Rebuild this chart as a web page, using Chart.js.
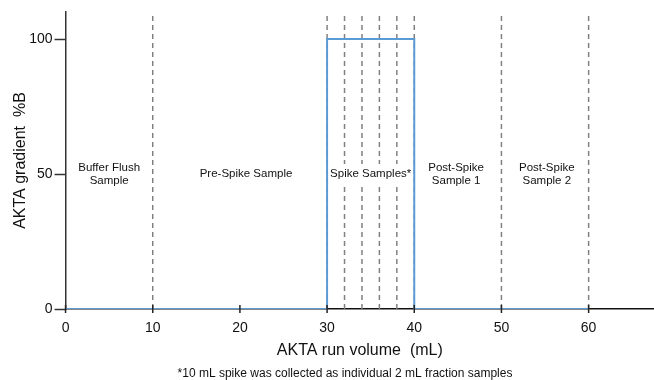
<!DOCTYPE html>
<html>
<head>
<meta charset="utf-8">
<script src="https://cdn.jsdelivr.net/npm/chart.js@4"></script>
<style>
  html, body { margin: 0; padding: 0; background: #fff; }
  #wrap { width: 654px; height: 380px; }
</style>
</head>
<body>
<div id="wrap"><canvas id="chart"></canvas></div>
<script>
// gradient program (run volume in mL vs %B)
const volume = [0, 30, 30, 40, 40, 60];
const gradient = [0, 0, 100, 100, 0, 0];

// fraction cut points (mL)
const fractionMarks = [10, 30, 32, 34, 36, 38, 40, 50, 60];

// sample region labels
const regionNames = [["Buffer Flush", "Sample"], ["Pre-Spike Sample"], ["Spike Samples*"], ["Post-Spike", "Sample 1"], ["Post-Spike", "Sample 2"]];
const regionCenters = [5, 20.7, 35, 44.8, 55.2];
const regionLevel = 50;

const xTicks = [0, 10, 20, 30, 40, 50, 60];
const yTicks = [0, 50, 100];
const xMax = 67.5;
const yMax = 110;

const footnote = "*10 mL spike was collected as individual 2 mL fraction samples";

const FONT = "Arial, 'Liberation Sans', sans-serif";

const markSets = fractionMarks.map((x) => ({
  data: [{ x: x, y: 0 }, { x: x, y: yMax }],
  borderColor: "#808080",
  borderWidth: 1.5,
  borderDash: [5, 4],
  pointRadius: 0,
  order: 2
}));

const regionLabels = {
  id: "regionLabels",
  afterDatasetsDraw(chart) {
    const { ctx, scales } = chart;
    const y0 = scales.y.getPixelForValue(regionLevel);
    const lh = 13;
    ctx.save();
    ctx.font = "11.5px " + FONT;
    ctx.textAlign = "center";
    ctx.textBaseline = "middle";
    // white boxes first, then text, so lines don't clip each other
    [true, false].forEach((boxPass) => {
      regionNames.forEach((lines, i) => {
        const cx = scales.x.getPixelForValue(regionCenters[i]);
        const top = y0 - (lines.length - 1) * lh / 2;
        lines.forEach((t, j) => {
          if (boxPass) {
            const w = ctx.measureText(t).width;
            ctx.fillStyle = "#fff";
            ctx.fillRect(cx - w / 2 - 1, top + j * lh - 10, w + 2, 20);
          } else {
            ctx.fillStyle = "#111";
            ctx.fillText(t, cx, top + j * lh);
          }
        });
      });
    });
    // tick marks crossing the x axis
    ctx.strokeStyle = "#222";
    ctx.lineWidth = 1.5;
    const yb = scales.y.getPixelForValue(0);
    xTicks.forEach((v) => {
      const px = scales.x.getPixelForValue(v);
      ctx.beginPath();
      ctx.moveTo(px, yb + 4);
      ctx.lineTo(px, yb - 4);
      ctx.stroke();
    });
    // footnote
    ctx.font = "12px " + FONT;
    ctx.fillStyle = "#111";
    ctx.fillText(footnote, 345, chart.height - 6);
    ctx.restore();
  }
};

new Chart(document.getElementById("chart"), {
  type: "line",
  data: {
    datasets: [
      {
        data: volume.map((v, i) => ({ x: v, y: gradient[i] })),
        borderColor: "#5b9bd5",
        borderWidth: 2,
        pointRadius: 0,
        tension: 0,
        order: 0
      },
      ...markSets
    ]
  },
  options: {
    responsive: true,
    maintainAspectRatio: false,
    animation: false,
    layout: { padding: { top: 12, right: 0, left: 8, bottom: 20 } },
    plugins: {
      legend: { display: false },
      tooltip: { enabled: false }
    },
    scales: {
      x: {
        type: "linear",
        min: 0,
        max: xMax,
        afterBuildTicks: (s) => { s.ticks = xTicks.map((v) => ({ value: v })); },
        border: { color: "#111", width: 1.5 },
        grid: { display: false },
        ticks: { color: "#111", font: { family: FONT, size: 14 }, padding: 3, maxRotation: 0 },
        title: { display: true, text: "AKTA run volume  (mL)", color: "#111", font: { family: FONT, size: 16 }, padding: { top: 1, bottom: 0 } }
      },
      y: {
        min: 0,
        max: yMax,
        afterBuildTicks: (s) => { s.ticks = yTicks.map((v) => ({ value: v })); },
        border: { color: "#333", width: 1.5 },
        grid: { drawOnChartArea: false, tickLength: 11, tickColor: "#333", tickWidth: 1.5 },
        ticks: { color: "#111", font: { family: FONT, size: 14 }, padding: 2 },
        title: { display: true, text: "AKTA gradient  %B", color: "#111", font: { family: FONT, size: 16 }, padding: { top: 3, bottom: -3 } }
      }
    }
  },
  plugins: [regionLabels]
});
</script>
</body>
</html>
